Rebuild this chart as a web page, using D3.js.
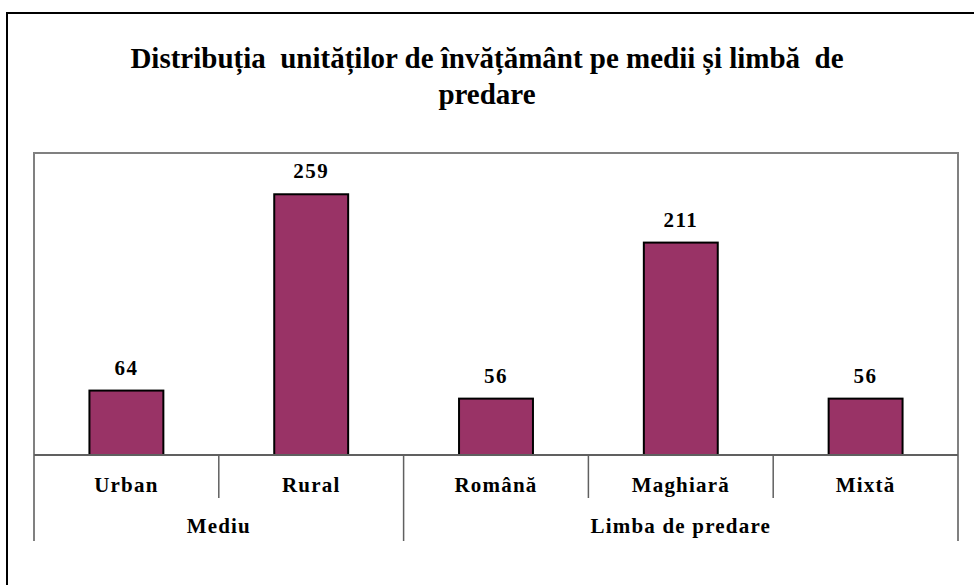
<!DOCTYPE html>
<html>
<head>
<meta charset="utf-8">
<script src="https://cdn.jsdelivr.net/npm/d3@7"></script>
<style>
  body { margin: 0; background: #fff; }
  svg text { font-family: "Liberation Serif", "Times New Roman", serif; font-weight: bold; fill: #000; white-space: pre; }
</style>
</head>
<body>
<svg id="chart" width="974" height="585"></svg>
<script>
// data
var titleLines = ["Distribuția  unităților de învățământ pe medii și limbă  de", "predare"];
var categories = ["Urban", "Rural", "Română", "Maghiară", "Mixtă"];
var categoryGroup = ["Mediu", "Mediu", "Limba de predare", "Limba de predare", "Limba de predare"];
var groups = ["Mediu", "Limba de predare"];
var values = [64, 259, 56, 211, 56];
var yMax = 300;

var svg = d3.select("#chart");
var W = +svg.attr("width"), H = +svg.attr("height");

var plot = { left: 34, right: 958, top: 153, bottom: 455 };

// outer frame
svg.append("rect")
    .attr("x", 7).attr("y", 13)
    .attr("width", W + 10).attr("height", H + 10)
    .attr("fill", "none").attr("stroke", "#000").attr("stroke-width", 2);

// title
svg.append("g").selectAll("text")
    .data(titleLines)
  .enter().append("text")
    .attr("x", 487)
    .attr("y", function(d, i){ return 68 + i * 36; })
    .attr("text-anchor", "middle")
    .attr("xml:space", "preserve")
    .style("font-size", "29px")
    .text(function(d){ return d; });

var x = d3.scaleBand()
    .domain(categories)
    .range([plot.left, plot.right])
    .paddingInner(0.6)
    .paddingOuter(0.3);

var y = d3.scaleLinear()
    .domain([0, yMax])
    .range([plot.bottom, plot.top]);

var data = categories.map(function(c, i){
    return { cat: c, group: categoryGroup[i], value: values[i] };
});

// plot area border
svg.append("path")
    .attr("d", "M" + plot.left + "," + (plot.bottom + 86) + "V" + plot.top + "H" + plot.right + "V" + (plot.bottom + 86))
    .attr("fill", "none").attr("stroke", "#808080").attr("stroke-width", 2);

// bars
svg.append("g").selectAll("rect")
    .data(data)
  .enter().append("rect")
    .attr("x", function(d){ return x(d.cat); })
    .attr("y", function(d){ return y(d.value); })
    .attr("width", x.bandwidth())
    .attr("height", function(d){ return y(0) - y(d.value); })
    .attr("fill", "#993366")
    .attr("stroke", "#000")
    .attr("stroke-width", 2);

// value labels
svg.append("g").selectAll("text")
    .data(data)
  .enter().append("text")
    .attr("x", function(d){ return x(d.cat) + x.bandwidth() / 2; })
    .attr("y", function(d){ return y(d.value) - 16; })
    .attr("text-anchor", "middle")
    .style("font-size", "21px")
    .style("letter-spacing", "1.5px")
    .text(function(d){ return d.value; });

// category axis line
svg.append("line")
    .attr("x1", plot.left).attr("x2", plot.right)
    .attr("y1", y(0)).attr("y2", y(0))
    .attr("stroke", "#606060").attr("stroke-width", 2);

var step = x.step();
var slotLeft = function(c){ return x(c) - x.bandwidth() * 0.75; };

// inner tick lines between categories of the same group
svg.append("g").selectAll("line")
    .data(data.filter(function(d, i){ return i > 0 && d.group === data[i - 1].group; }))
  .enter().append("line")
    .attr("x1", function(d){ return slotLeft(d.cat); })
    .attr("x2", function(d){ return slotLeft(d.cat); })
    .attr("y1", y(0)).attr("y2", y(0) + 43)
    .attr("stroke", "#606060").attr("stroke-width", 1.5);

// group separators
var groupRange = groups.map(function(g){
    var cats = data.filter(function(d){ return d.group === g; });
    return { name: g, x0: slotLeft(cats[0].cat), x1: slotLeft(cats[cats.length - 1].cat) + step };
});
svg.append("g").selectAll("line")
    .data(groupRange.slice(1))
  .enter().append("line")
    .attr("x1", function(d){ return d.x0; })
    .attr("x2", function(d){ return d.x0; })
    .attr("y1", y(0)).attr("y2", y(0) + 86)
    .attr("stroke", "#606060").attr("stroke-width", 1.5);

// category labels
svg.append("g").selectAll("text")
    .data(data)
  .enter().append("text")
    .attr("x", function(d){ return x(d.cat) + x.bandwidth() / 2; })
    .attr("y", y(0) + 37)
    .attr("text-anchor", "middle")
    .style("font-size", "21px")
    .style("letter-spacing", "1.2px")
    .text(function(d){ return d.cat; });

// group labels
svg.append("g").selectAll("text")
    .data(groupRange)
  .enter().append("text")
    .attr("x", function(d){ return (d.x0 + d.x1) / 2; })
    .attr("y", y(0) + 78)
    .attr("text-anchor", "middle")
    .style("font-size", "21px")
    .style("letter-spacing", "1.2px")
    .text(function(d){ return d.name; });
</script>
</body>
</html>
